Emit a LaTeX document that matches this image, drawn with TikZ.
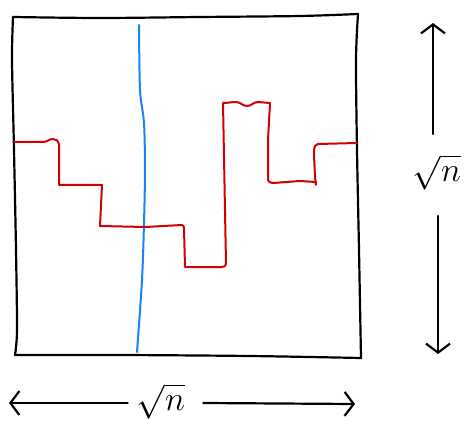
\documentclass[tikz,border=0pt]{standalone}
\usepackage{fix-cm}
\usepackage{exscale}
\DeclareMathSizes{34}{34}{24}{17}
\usetikzlibrary{arrows.meta}
\definecolor{penred}{RGB}{210,0,0}
\definecolor{penblue}{RGB}{25,130,245}
\tikzset{
  pen/.style={line width=2.2pt, line cap=round, line join=round},
  box/.style={pen, black},
  cut/.style={pen, penblue, line width=2pt},
  walk/.style={pen, penred, line width=2pt},
  dimarrow/.style={pen, black, -{Straight Barb[length=9pt,width=24pt,line width=2.2pt]}},
  lbl/.style={inner sep=0pt}
}
\newcommand{\biglabel}{\fontsize{34}{38}\selectfont$\sqrt{n}$}
\begin{document}
\begin{tikzpicture}[x=1pt,y=-1pt]
\useasboundingbox (0,0) rectangle (469,425);
% square
\draw[box] plot[smooth] coordinates {(13,17) (100,18) (200,17) (300,16) (358,14)};
\draw[box] plot[smooth] coordinates {(358,14) (356,60) (357,150) (359,250) (361,358)};
\draw[box] plot[smooth] coordinates {(361,358) (250,356) (120,355) (15,355)};
\draw[box] plot[smooth] coordinates {(15,355) (17,330) (16,250) (14,150) (12,60) (13,17)};
% blue cut
\draw[cut] plot[smooth] coordinates {(139,25) (140,90) (144,123) (145,170) (144,223) (142,280) (137,352)};
% red walk
\draw[walk] (14,142) -- (43,142) to[out=0,in=180] (53,139) to[out=0,in=90] (59,144)
  -- (59,185) -- (102,185) -- (100,226) -- (145,227) -- (182,225)
  to[out=0,in=90] (184,229) -- (185,267) -- (222,267) to[out=0,in=-90] (226,264)
  -- (223,103) to[out=0,in=180] (236,102) to[out=0,in=180] (247,106) to[out=0,in=180] (258,102)
  -- (270,103) -- (268,140) -- (268,180) to[out=-90,in=180] (273,183)
  -- (300,181) -- (316,182) to[out=-90,in=-90] (314,150) to[out=90,in=180] (318,144) -- (357,143);
% right dimension
\node[lbl] (vlab) at (437,172) {\biglabel};
\coordinate (vtop) at (433,23);
\coordinate (vbot) at (438,354);
\draw[dimarrow] (433,134) coordinate (vs1) -- (vtop);
\draw[dimarrow] (438,216) coordinate (vs2) -- (vbot);
% bottom dimension
\node[lbl] (hlab) at (161,401) {\biglabel};
\coordinate (hleft) at (9,403);
\coordinate (hright) at (355,404);
\draw[dimarrow] (hlab.west) ++(-9,2) coordinate (hs1) -- (hleft);
\draw[dimarrow] (hlab.east) ++(18,2) coordinate (hs2) -- (hright);
\end{tikzpicture}
\end{document}
